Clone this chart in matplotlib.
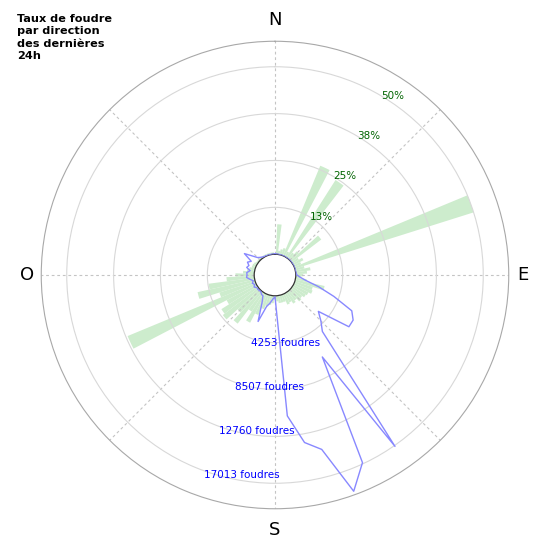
import numpy as np
import matplotlib
matplotlib.use("Agg")
import matplotlib.pyplot as plt

# ---------------- data ----------------
directions_deg = list(range(0, 360, 5))
pct_values = [0, 8, 1, 1.5, 2, 26, 1.5, 24.5, 2, 3, 10, 2, 3, 2, 50, 2.5, 4, 3,
              2, 1.5, 3, 8, 5, 5.3, 4.5, 4.2, 3.6, 4, 3, 3.5, 2.7, 3, 2, 2, 2, 1.5,
              1, 2, 2.5, 3, 4, 6, 8.8, 6, 10.8, 8, 12, 11.4, 9, 37, 10, 15.6, 12.3, 7.4,
              5, 3, 2, 1.5, 1, 1, 0.8, 0.5, 0.5, 0.5, 0.5, 0.5, 0.5, 0.5, 0.5, 0.5, 0.5, 0.5]
strike_counts = [30, 20, 20, 10, 10, 10, 10, 10, 10, 10, 10, 10, 10, 10, 10, 10, 20, 30,
                 100, 400, 950, 2200, 3800, 5800, 6300, 6300, 3250, 4000, 4800, 17100, 6700, 16900, 19000, 14500, 13550, 10950,
                 100, 300, 700, 1070, 2600, 900, 300, 250, 100, 100, 150, 100, 300, 150, 300, 150, 400, 700,
                 650, 680, 400, 770, 630, 870, 600, 1500, 800, 350, 200, 100, 50, 30, 20, 20, 20, 20]
pct_ticks = [12.5, 25, 37.5, 50]
pct_tick_labels = ["13%", "25%", "38%", "50%"]
count_ticks = [4253, 8507, 12760, 17013]
count_tick_labels = ["4253 foudres", "8507 foudres", "12760 foudres", "17013 foudres"]
cardinal_deg = [0, 90, 180, 270]
cardinal_labels = ["N", "E", "S", "O"]
title = "Taux de foudre\npar direction\ndes dernières\n24h"

# ---------------- layout ----------------
PCT_MAX = 56.8
PCT_ORIGIN = -5.55
count_scale = count_ticks[-1] / pct_ticks[-1]

fig = plt.figure(figsize=(5.5, 5.5), dpi=100)
rect = [0.075, 0.075, 0.85, 0.85]
ax = fig.add_axes(rect, projection="polar")
ax.set_theta_zero_location("N")
ax.set_theta_direction(-1)

theta = np.deg2rad(directions_deg)
ax.bar(theta, pct_values, width=np.deg2rad(5), color="#cdeccd", edgecolor="none",
       align="center", zorder=1)

ax.set_ylim(0, PCT_MAX)
ax.set_rorigin(PCT_ORIGIN)
ax.set_yticks(pct_ticks)
ax.set_yticklabels([])
ax.set_xticks(np.deg2rad(np.arange(0, 360, 45)))
ax.set_xticklabels([])
ax.xaxis.grid(True, color="#c4c4c4", linestyle=(0, (2.5, 2.5)), linewidth=0.8)
ax.yaxis.grid(True, color="#d8d8d8", linestyle="-", linewidth=0.8)
ax.spines["polar"].set_color("#a8a8a8")
ax.spines["polar"].set_linewidth(0.8)
ax.spines["inner"].set_color("#333333")
ax.spines["inner"].set_linewidth(0.9)

# cardinal labels (vertical ones slightly further out than horizontal ones)
for d, lab in zip(cardinal_deg, cardinal_labels):
    r = 62.5 if d in (0, 180) else 60.6
    ax.text(np.deg2rad(d), r, lab, fontsize=13, ha="center", va="center",
            clip_on=False)

for v, lab in zip(pct_ticks, pct_tick_labels):
    ax.text(np.deg2rad(30.5), v, lab, color="#006400", fontsize=7.5,
            ha="left", va="center")

# second polar axes for strike counts
ax2 = fig.add_axes(rect, projection="polar", frameon=False)
ax2.set_theta_zero_location("N")
ax2.set_theta_direction(-1)
ax2.patch.set_alpha(0)
th_closed = np.append(theta, theta[0])
cnt_closed = np.append(strike_counts, strike_counts[0])
ax2.plot(th_closed, cnt_closed, color="#8888ff", linewidth=1.0)
ax2.set_ylim(0, PCT_MAX * count_scale)
ax2.set_rorigin(PCT_ORIGIN * count_scale)
ax2.grid(False)
ax2.set_xticks([])
ax2.set_yticks([])
for s in ax2.spines.values():
    s.set_visible(False)
for v, lab in zip(count_ticks, count_tick_labels):
    ax2.text(np.deg2rad(199.6), v + 1.1 * count_scale, lab, color="#0000ff",
             fontsize=7.5, ha="left", va="center")

fig.text(0.031, 0.975, title, fontsize=8.1, fontweight="bold", ha="left", va="top",
         linespacing=1.32)

fig.savefig("out.png", dpi=100)
